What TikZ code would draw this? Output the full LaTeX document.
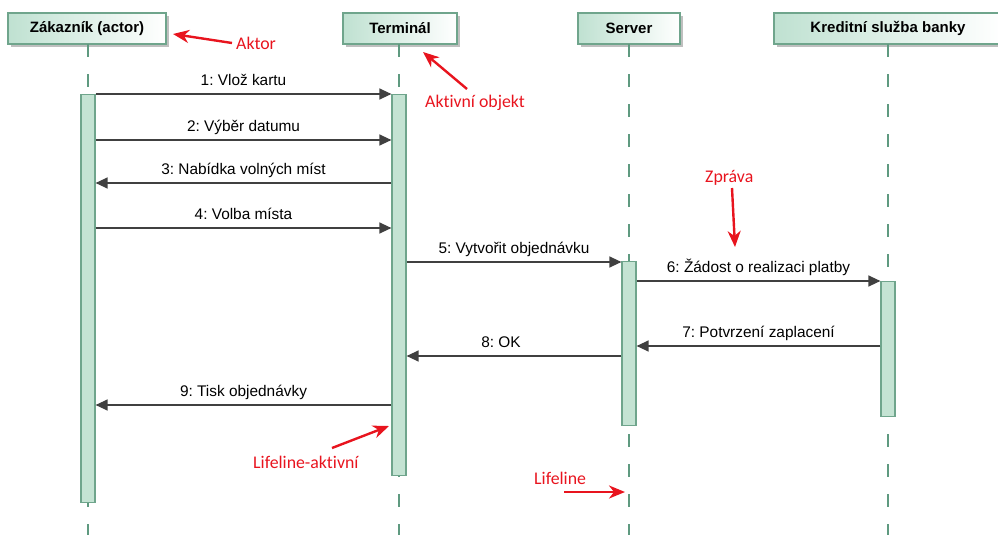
\documentclass[tikz,border=0pt]{standalone}
\usepackage{fontspec}
\setmainfont{Liberation Sans}
\newfontfamily\annotfont[Ligatures=NoCommon]{Carlito}
\usetikzlibrary{arrows.meta,shadows}
\frenchspacing
\definecolor{hdrborder}{HTML}{6FA58C}
\definecolor{hdrfill}{HTML}{BFE1D1}
\definecolor{barfill}{HTML}{C4E3D3}
\definecolor{lifecol}{HTML}{5F9A80}
\definecolor{msgcol}{HTML}{404040}
\definecolor{annred}{HTML}{E8141E}
\tikzset{
  hdr/.style={draw=hdrborder, line width=1.2pt, left color=hdrfill, right color=white,
    minimum height=31pt, inner sep=0pt, font=\fontsize{15}{17}\selectfont\bfseries,
    general shadow={fill=black!25, shadow xshift=3pt, shadow yshift=-3pt}},
  lifeln/.style={draw=lifecol, line width=1.1pt, dash pattern=on 13pt off 17pt},
  actbar/.style={draw=hdrborder, fill=barfill, line width=1.2pt, minimum width=14pt, inner sep=0pt, anchor=north},
  msg/.style={draw=msgcol, line width=1.3pt, -{Triangle[length=12pt,width=11pt]}},
  msglbl/.style={anchor=base, yshift=8.5pt, font=\fontsize{15.4}{17}\selectfont, text=black, inner sep=0pt},
  annot/.style={text=annred, font=\annotfont\fontsize{17.8}{20}\selectfont, anchor=base west, inner sep=0pt},
  annarrow/.style={draw=annred, line width=2.4pt, -{Stealth[length=16pt,width=13pt,inset=5pt]}}
}
\begin{document}
\begin{tikzpicture}[x=1pt,y=-1pt]
\useasboundingbox (0,0) rectangle (998,546);
\begin{scope}
\clip (0,0) rectangle (998,546);
% headers
\node[hdr, minimum width=158pt] (hz) at (87,28.5) {Zákazník (actor)};
\node[hdr, minimum width=114pt] (ht) at (400,28.5) {Terminál};
\node[hdr, minimum width=102pt] (hs) at (629,28.5) {Server};
\node[hdr, minimum width=228pt] (hk) at (888,28.5) {Kreditní služba banky};
\end{scope}
% lifeline ends
\coordinate (ez) at (88,535);
\coordinate (et) at (399,535);
\coordinate (es) at (629,535);
\coordinate (ek) at (888,535);
\draw[lifeln] (88,44) -- (ez);
\draw[lifeln] (399,44) -- (et);
\draw[lifeln] (629,44) -- (es);
\draw[lifeln] (888,44) -- (ek);
% activation bars
\node[actbar, minimum height=408pt] (bz) at (88,94) {};
\node[actbar, minimum height=381pt] (bt) at (399,94) {};
\node[actbar, minimum height=164pt] (bs) at (629,261) {};
\node[actbar, minimum height=135pt] (bk) at (888,281) {};
% message levels
\coordinate (y1) at (0,94);
\coordinate (y2) at (0,140);
\coordinate (y3) at (0,183);
\coordinate (y4) at (0,228);
\coordinate (y5) at (0,262);
\coordinate (y6) at (0,281);
\coordinate (y7) at (0,346);
\coordinate (y8) at (0,356);
\coordinate (y9) at (0,405);
\draw[msg] (bz.east |- y1) -- node[msglbl] {1: Vlož kartu} (bt.west |- y1);
\draw[msg] (bz.east |- y2) -- node[msglbl] {2: Výběr datumu} (bt.west |- y2);
\draw[msg] (bt.west |- y3) -- node[msglbl] {3: Nabídka volných míst} (bz.east |- y3);
\draw[msg] (bz.east |- y4) -- node[msglbl] {4: Volba místa} (bt.west |- y4);
\draw[msg] (bt.east |- y5) -- node[msglbl] {5: Vytvořit objednávku} (bs.west |- y5);
\draw[msg] (bs.east |- y6) -- node[msglbl] {6: Žádost o realizaci platby} (bk.west |- y6);
\draw[msg] (bk.west |- y7) -- node[msglbl] {7: Potvrzení zaplacení} (bs.east |- y7);
\draw[msg] (bs.west |- y8) -- node[msglbl, xshift=-13pt] {8: OK} (bt.east |- y8);
\draw[msg] (bt.west |- y9) -- node[msglbl] {9: Tisk objednávky} (bz.east |- y9);
% annotations
\node[annot] (aAktor) at (236,49) {Aktor};
\node[annot] (aObj) at (425,107) {Aktivní objekt};
\node[annot] (aZpr) at (705,182) {Zpráva};
\node[annot] (aLa) at (253,468) {Lifeline-aktivní};
\node[annot] (aLl) at (534,484) {Lifeline};
\coordinate (tAktor) at (173,34);
\coordinate (tObj) at (423,52);
\coordinate (tZpr) at (735,247);
\coordinate (tLa) at (389,426);
\coordinate (tLl) at (625,492);
\draw[annarrow] (232,43) -- (tAktor);
\draw[annarrow] (467,89) -- (tObj);
\draw[annarrow] (732,188) -- (tZpr);
\draw[annarrow] (332,448) -- (tLa);
\draw[annarrow] (564,492) -- (tLl);
\end{tikzpicture}
\end{document}
